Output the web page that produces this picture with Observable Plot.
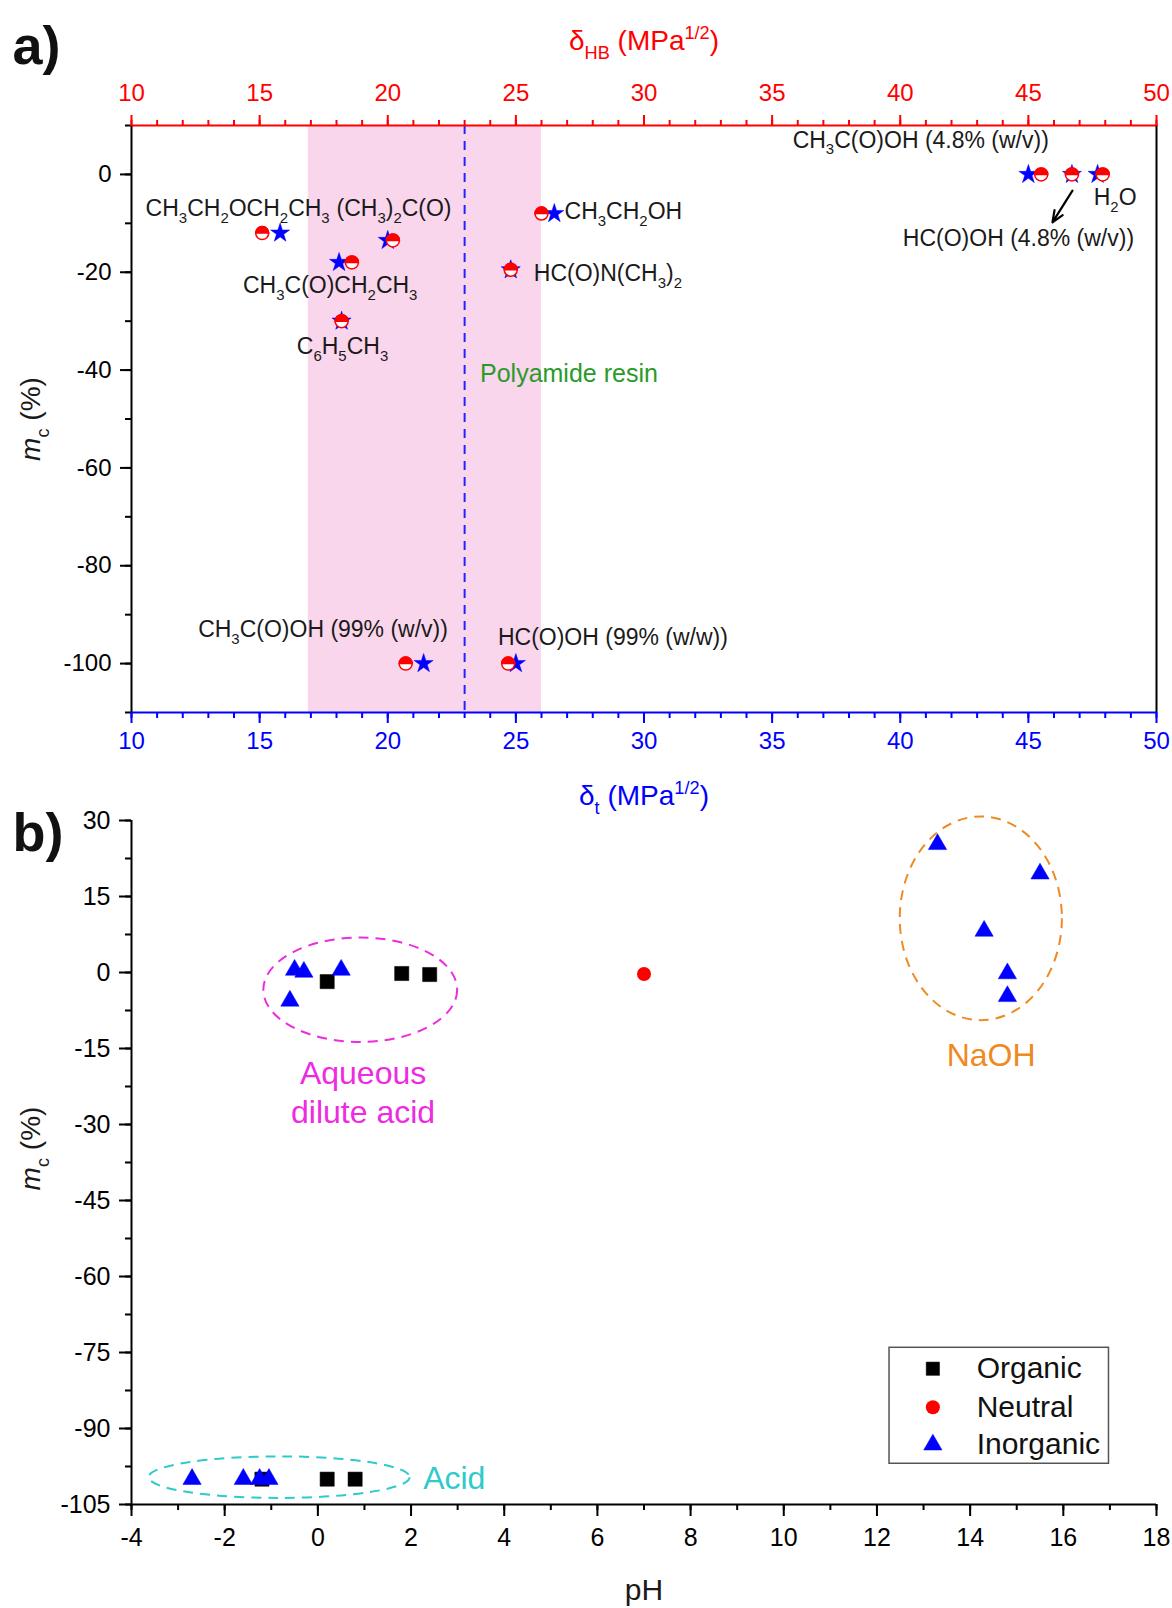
<!DOCTYPE html>
<html><head><meta charset="utf-8">
<script src="https://cdn.jsdelivr.net/npm/d3@7"></script>
<script src="https://cdn.jsdelivr.net/npm/@observablehq/plot@0.6"></script>
<style>
html,body{margin:0;padding:0;background:#fff;overflow:hidden;}
#a,#b{width:1172px;}
svg{display:block;}
</style></head><body>
<div id="a"></div><div id="b"></div>
<script>
// ===== Panel a data =====
const solvents = ["CH3CH2OCH2CH3", "(CH3)2C(O)", "CH3C(O)CH2CH3", "C6H5CH3", "HC(O)N(CH3)2", "CH3CH2OH",
  "CH3C(O)OH 99%", "HC(O)OH 99%", "CH3C(O)OH 4.8%", "HC(O)OH 4.8%", "H2O"];
const deltaHB = [15.1, 20.2, 18.6, 18.2, 24.8, 26.0, 20.7, 24.7, 45.5, 46.7, 47.9];
const deltaT  = [15.8, 20.0, 18.1, 18.2, 24.8, 26.5, 21.4, 25.0, 45.0, 46.7, 47.7];
const mcA     = [-12, -13.5, -18, -30, -19.5, -8, -100, -100, 0, 0, 0];

const labelTextA = ["CH_{3}CH_{2}OCH_{2}CH_{3}", "(CH_{3})_{2}C(O)", "CH_{3}C(O)CH_{2}CH_{3}", "C_{6}H_{5}CH_{3}",
  "HC(O)N(CH_{3})_{2}", "CH_{3}CH_{2}OH", "CH_{3}C(O)OH (99% (w/v))", "HC(O)OH (99% (w/w))",
  "CH_{3}C(O)OH (4.8% (w/v))", "HC(O)OH (4.8% (w/v))", "H_{2}O"];
const labelXA = [10.55, 18.0, 14.35, 16.45, 25.7, 26.9, 12.6, 24.3, 35.8, 40.1, 47.55];
const labelYA = [-7.0, -7.0, -22.7, -35.3, -20.3, -7.6, -93.1, -94.6, 7.0, -13.1, -4.8];

const xDomainA = [10, 50];
const yDomainA = [-110, 10];
const xMajorA = d3.range(10, 51, 5);
const xMinorA = d3.range(10, 51, 1);
const yMajorA = d3.range(-100, 1, 20);
const yMinorA = d3.range(-110, 11, 10);
const bandA = [{x1: 16.9, x2: 26.0}];
const resinLine = [23];
const resinLabel = [{x: 23.6, y: -40.8, text: "Polyamide resin"}];
const arrowA = [{x1: 46.72, y1: -3.3, x2: 45.94, y2: -9.8}];

// ===== Panel b data =====
const orgPH = [0.2, 1.8, 2.4, -1.2, 0.2, 0.8];
const orgMc = [-1.8, -0.2, -0.4, -100, -100, -100];
const neuPH = [7.0];
const neuMc = [-0.3];
const inoPH = [-0.6, -0.5, -0.3, 0.5, 13.3, 15.5, 14.3, 14.8, 14.8, -2.7, -1.6, -1.25, -1.05];
const inoMc = [-5.6, 0.5, 0.1, 0.5, 25.3, 19.5, 8.2, -0.2, -4.7, -100, -100, -100, -100];

const xDomainB = [-4, 18];
const yDomainB = [-105, 30];
const xMajorB = d3.range(-4, 19, 2);
const xMinorB = d3.range(-4, 19, 1);
const yMajorB = d3.range(-105, 31, 15);
const yMinorB = d3.range(-105, 31, 7.5);

const groupNames = ["Aqueous dilute acid", "NaOH", "Acid"];
const groupCx = [0.92, 14.24, -0.82];
const groupCy = [-3.5, 10.6, -99.7];
const groupRx = [2.08, 1.74, 2.8];
const groupRy = [10.3, 20.1, 4.1];
const groupColor = ["#ee2be0", "#ef8a22", "#2fcaca"];
const groupLabelsMid = [
  {x: 0.97, y: -19.9, text: "Aqueous", c: 0},
  {x: 0.97, y: -27.6, text: "dilute acid", c: 0},
  {x: 14.45, y: -16.4, text: "NaOH", c: 1}
];
const groupLabelsStart = [{x: 2.26, y: -100, text: "Acid", c: 2}];

const legendNames = ["Organic", "Neutral", "Inorganic"];
const legendY = [-78.2, -85.8, -93.2];
const legendBox = [{x1: 12.27, x2: 16.98, y1: -96.96, y2: -74.07}];
const legendMarkX = 13.2;
const legendTextX = 14.14;

// ===== helpers =====
const FONT = "'Liberation Sans', Arial, Helvetica, sans-serif";
const RED = "#ff0000", BLUE = "#0000ff";
const halfTop = { draw(ctx, size) { const r = Math.sqrt(size / Math.PI); ctx.moveTo(r, 0); ctx.arc(0, 0, r, 0, Math.PI, true); ctx.closePath(); } };
const fmt = d => String(d);

function rich(el) {
  const s = el.textContent;
  if (!/[_^~]\{/.test(s)) return;
  el.textContent = "";
  const re = /([_^~])\{([^}]*)\}/g;
  let last = 0, m, shift = 0;
  const add = (txt, kind) => {
    const ts = document.createElementNS("http://www.w3.org/2000/svg", "tspan");
    ts.textContent = txt;
    let target = 0, size = 1;
    if (kind === "_") { size = 0.65; target = 0.3; }
    else if (kind === "^") { size = 0.65; target = -0.4; }
    else if (kind === "~") { ts.setAttribute("font-style", "italic"); }
    if (size !== 1) ts.setAttribute("font-size", size + "em");
    const delta = target - shift;
    if (Math.abs(delta) > 1e-6) ts.setAttribute("dy", (delta / size).toFixed(3) + "em");
    shift = target;
    el.appendChild(ts);
  };
  while ((m = re.exec(s))) {
    if (m.index > last) add(s.slice(last, m.index), "");
    add(m[2], m[1]);
    last = re.lastIndex;
  }
  if (last < s.length) add(s.slice(last), "");
}
function richify(svg) { svg.querySelectorAll("text").forEach(rich); }

const ellipses = (index, scales) => {
  const g = d3.create("svg:g").attr("fill", "none").attr("stroke-width", 2).attr("stroke-dasharray", "10,7");
  groupCx.forEach((cx, i) => {
    g.append("ellipse")
      .attr("cx", scales.x(cx)).attr("cy", scales.y(groupCy[i]))
      .attr("rx", Math.abs(scales.x(cx + groupRx[i]) - scales.x(cx)))
      .attr("ry", Math.abs(scales.y(groupCy[i] + groupRy[i]) - scales.y(groupCy[i])))
      .attr("stroke", groupColor[i]);
  });
  return g.node();
};

// ===== Panel a =====
const rowsA = solvents.map((s, i) => ({s, hb: deltaHB[i], t: deltaT[i], mc: mcA[i]}));
const labsA = labelTextA.map((t, i) => ({t, x: labelXA[i], y: labelYA[i]}));

const plotA = Plot.plot({
  width: 1172, height: 800,
  marginLeft: 131, marginRight: 16, marginTop: 125, marginBottom: 88,
  style: {fontFamily: FONT, fontSize: "24px", background: "white", color: "black", overflow: "visible"},
  x: {domain: xDomainA, label: null},
  y: {domain: yDomainA, label: null},
  marks: [
    Plot.rect(bandA, {x1: "x1", x2: "x2", fill: "#fad6ec"}),
    Plot.ruleX(resinLine, {stroke: "#2323ff", strokeWidth: 2, strokeDasharray: "9,7"}),
    Plot.dot(rowsA, {x: "t", y: "mc", symbol: "star", r: 6, fill: BLUE, stroke: BLUE, strokeWidth: 0.5}),
    Plot.dot(rowsA, {x: "hb", y: "mc", r: 6.5, fill: "white", stroke: RED, strokeWidth: 1.5}),
    Plot.dot(rowsA, {x: "hb", y: "mc", symbol: halfTop, r: 6.5, fill: RED, stroke: RED, strokeWidth: 1.5}),
    Plot.text(labsA, {x: "x", y: "y", text: "t", textAnchor: "start", fontSize: 23, fill: "#1a1a1a"}),
    Plot.text(resinLabel, {x: "x", y: "y", text: "text", textAnchor: "start", fontSize: 25, fill: "#2a9a2a"}),
    Plot.arrow(arrowA, {x1: "x1", y1: "y1", x2: "x2", y2: "y2", stroke: "black", strokeWidth: 2.2, headLength: 13, headAngle: 45}),
    Plot.ruleY([yDomainA[1]], {stroke: RED, strokeWidth: 2}),
    Plot.ruleY([yDomainA[0]], {stroke: BLUE, strokeWidth: 2}),
    Plot.ruleX([xDomainA[0]], {stroke: "black", strokeWidth: 2}),
    Plot.ruleX([xDomainA[1]], {stroke: "black", strokeWidth: 2}),
    Plot.axisY({ticks: yMinorA, tickSize: 6, tickFormat: () => "", label: null, strokeWidth: 2}),
    Plot.axisY({ticks: yMajorA, tickSize: 11, tickPadding: 9, tickFormat: fmt, label: null, strokeWidth: 2}),
    Plot.axisX({anchor: "top", ticks: xMinorA, tickSize: 6, tickFormat: () => "", label: null, color: RED, strokeWidth: 2}),
    Plot.axisX({anchor: "top", ticks: xMajorA, tickSize: 11, tickPadding: 14, tickFormat: fmt, label: null, color: RED, strokeWidth: 2}),
    Plot.axisX({anchor: "bottom", ticks: xMinorA, tickSize: 6, tickFormat: () => "", label: null, color: BLUE, strokeWidth: 2}),
    Plot.axisX({anchor: "bottom", ticks: xMajorA, tickSize: 11, tickPadding: 8, tickFormat: fmt, label: null, color: BLUE, strokeWidth: 2}),
    Plot.text(["δ_{HB} (MPa^{1/2})"], {frameAnchor: "top", dy: -84, lineAnchor: "middle", textAnchor: "middle", fontSize: 28, fill: RED}),
    Plot.text(["δ_{t} (MPa^{1/2})"], {frameAnchor: "bottom", dy: 84, lineAnchor: "middle", textAnchor: "middle", fontSize: 28, fill: BLUE}),
    Plot.text(["~{m}_{c} (%)"], {frameAnchor: "left", dx: -100, rotate: -90, lineAnchor: "middle", textAnchor: "middle", fontSize: 28, fill: "#1a1a1a"}),
    Plot.text(["a)"], {frameAnchor: "top-left", dx: -119, dy: -100, lineAnchor: "top", textAnchor: "start", fontSize: 54, fontWeight: "bold", fill: "#111"})
  ]
});
richify(plotA);
document.getElementById("a").appendChild(plotA);

// ===== Panel b =====
const org = orgPH.map((x, i) => ({x, y: orgMc[i]}));
const neu = neuPH.map((x, i) => ({x, y: neuMc[i]}));
const ino = inoPH.map((x, i) => ({x, y: inoMc[i]}));
const legendRows = legendNames.map((n, i) => ({n, x: legendMarkX, tx: legendTextX, y: legendY[i]}));

const plotB = Plot.plot({
  width: 1172, height: 808,
  marginLeft: 131, marginRight: 16, marginTop: 20, marginBottom: 104,
  style: {fontFamily: FONT, fontSize: "25px", background: "white", color: "black", overflow: "visible"},
  x: {domain: xDomainB, label: null},
  y: {domain: yDomainB, label: null},
  marks: [
    ellipses,
    Plot.text(groupLabelsMid, {x: "x", y: "y", text: "text", textAnchor: "middle", fontSize: 32, fill: d => groupColor[d.c]}),
    Plot.text(groupLabelsStart, {x: "x", y: "y", text: "text", textAnchor: "start", fontSize: 32, fill: d => groupColor[d.c]}),
    Plot.dot(org, {x: "x", y: "y", symbol: "square", r: 8, fill: "black", stroke: "black", strokeWidth: 0.5}),
    Plot.dot(neu, {x: "x", y: "y", r: 7, fill: RED}),
    Plot.dot(ino, {x: "x", y: "y", symbol: "triangle", r: 6.8, fill: BLUE, stroke: BLUE, strokeWidth: 0.5}),
    Plot.rect(legendBox, {x1: "x1", x2: "x2", y1: "y1", y2: "y2", fill: "white", stroke: "#555", strokeWidth: 1.5}),
    Plot.dot(legendRows.slice(0, 1), {x: "x", y: "y", symbol: "square", r: 7.5, fill: "black", stroke: "black", strokeWidth: 0.5}),
    Plot.dot(legendRows.slice(1, 2), {x: "x", y: "y", r: 7, fill: RED}),
    Plot.dot(legendRows.slice(2, 3), {x: "x", y: "y", symbol: "triangle", r: 6.8, fill: BLUE, stroke: BLUE, strokeWidth: 0.5}),
    Plot.text(legendRows, {x: "tx", y: "y", text: "n", textAnchor: "start", fontSize: 30, fill: "#111"}),
    Plot.ruleY([yDomainB[0]], {stroke: "black", strokeWidth: 2}),
    Plot.ruleX([xDomainB[0]], {stroke: "black", strokeWidth: 2}),
    Plot.axisY({ticks: yMinorB, tickSize: 6, tickFormat: () => "", label: null, strokeWidth: 2}),
    Plot.axisY({ticks: yMajorB, tickSize: 12, tickPadding: 9, tickFormat: fmt, label: null, strokeWidth: 2}),
    Plot.axisX({ticks: xMinorB, tickSize: 6, tickFormat: () => "", label: null, strokeWidth: 2}),
    Plot.axisX({ticks: xMajorB, tickSize: 12, tickPadding: 12, tickFormat: fmt, label: null, strokeWidth: 2}),
    Plot.text(["pH"], {frameAnchor: "bottom", dy: 86, lineAnchor: "middle", textAnchor: "middle", fontSize: 30, fill: "#1a1a1a"}),
    Plot.text(["~{m}_{c} (%)"], {frameAnchor: "left", dx: -100, dy: -14, rotate: -90, lineAnchor: "middle", textAnchor: "middle", fontSize: 28, fill: "#1a1a1a"}),
    Plot.text(["b)"], {frameAnchor: "top-left", dx: -119, dy: -8, lineAnchor: "top", textAnchor: "start", fontSize: 54, fontWeight: "bold", fill: "#111"})
  ]
});
richify(plotB);
document.getElementById("b").appendChild(plotB);
</script>
</body></html>
